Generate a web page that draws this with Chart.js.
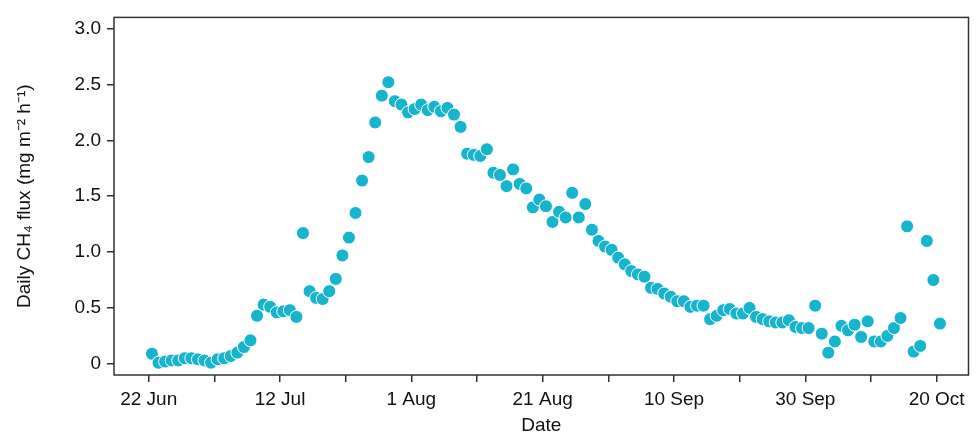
<!DOCTYPE html>
<html>
<head>
<meta charset="utf-8">
<script src="https://cdn.jsdelivr.net/npm/chart.js@4.4.1/dist/chart.umd.min.js"></script>
<style>
    html, body { margin: 0; padding: 0; background: #fff; }
    #wrap { width: 976px; height: 434px; }
</style>
</head>
<body>
<div id="wrap"><canvas id="chartFlux" width="976" height="434"></canvas></div>
<script>
// daily CH4 flux, one value per day starting 22 Jun
const fluxHarian = [
    0.09, 0.01, 0.02, 0.03, 0.03, 0.05, 0.05, 0.04, 0.03, 0.01,
    0.04, 0.05, 0.07, 0.10, 0.15, 0.21, 0.43, 0.53, 0.51, 0.46,
    0.47, 0.48, 0.42, 1.17, 0.65, 0.59, 0.58, 0.65, 0.76, 0.97,
    1.13, 1.35, 1.64, 1.85, 2.16, 2.40, 2.52, 2.35, 2.32, 2.25,
    2.28, 2.32, 2.27, 2.30, 2.26, 2.29, 2.23, 2.12, 1.88, 1.87,
    1.86, 1.92, 1.71, 1.69, 1.59, 1.74, 1.61, 1.57, 1.40, 1.47,
    1.41, 1.27, 1.36, 1.31, 1.53, 1.31, 1.43, 1.20, 1.10, 1.05,
    1.02, 0.95, 0.89, 0.83, 0.80, 0.78, 0.68, 0.67, 0.63, 0.60,
    0.56, 0.56, 0.51, 0.52, 0.52, 0.40, 0.43, 0.48, 0.49, 0.45,
    0.45, 0.50, 0.42, 0.40, 0.38, 0.37, 0.37, 0.39, 0.33, 0.32,
    0.32, 0.52, 0.27, 0.10, 0.20, 0.34, 0.30, 0.35, 0.24, 0.38,
    0.20, 0.20, 0.25, 0.32, 0.41, 1.23, 0.11, 0.16, 1.10, 0.75,
    0.36
];

// x tick labels, every 20 days from 22 Jun (minor ticks every 10 days)
const labelTanggal = ["22 Jun", "12 Jul", "1 Aug", "21 Aug", "10 Sep", "30 Sep", "20 Oct"];
const yTicks = [0, 0.5, 1.0, 1.5, 2.0, 2.5, 3.0];

// each daily value sits at noon of its day
const titikFlux = fluxHarian.map((v, i) => ({ x: i + 0.5, y: v }));

const fontUtama = { family: "'Liberation Sans', Arial, sans-serif", size: 19 };
const warnaAxis = "#333333";

const bingkai = {
    id: "bingkai",
    beforeDatasetsDraw(chart) {
        const { ctx, chartArea } = chart;
        ctx.save();
        ctx.strokeStyle = warnaAxis;
        ctx.lineWidth = 1.5;
        ctx.strokeRect(chartArea.left, chartArea.top, chartArea.right - chartArea.left, chartArea.bottom - chartArea.top);
        ctx.restore();
    }
};

new Chart(document.getElementById("chartFlux"), {
    type: "scatter",
    data: {
        datasets: [{
            data: titikFlux,
            backgroundColor: "#17b4cd",
            borderColor: "#ffffff",
            borderWidth: 1,
            pointRadius: 6.5,
            pointHoverRadius: 6.5
        }]
    },
    options: {
        responsive: false,
        animation: false,
        devicePixelRatio: 1,
        layout: { padding: { top: 12, right: 4, left: 0, bottom: 0 } },
        plugins: { legend: { display: false }, tooltip: { enabled: false } },
        scales: {
            x: {
                type: "linear",
                min: -5.28,
                max: 124.85,
                afterFit: s => { s.height = 59; },
                border: { display: false },
                grid: { drawOnChartArea: false, drawTicks: true, tickLength: 7, color: warnaAxis, lineWidth: 1.5 },
                ticks: {
                    stepSize: 10,
                    includeBounds: false,
                    autoSkip: false,
                    maxRotation: 0,
                    padding: 6,
                    color: "#111",
                    font: fontUtama,
                    callback: v => (v % 20 === 0 ? labelTanggal[v / 20] : "")
                },
                title: { display: true, text: "Date", color: "#111", font: fontUtama, padding: { top: 0, bottom: -3 } }
            },
            y: {
                min: -0.1,
                max: 3.1,
                afterFit: s => { s.width = 114; },
                afterBuildTicks: s => { s.ticks = yTicks.map(v => ({ value: v })); },
                border: { display: false },
                grid: { drawOnChartArea: false, drawTicks: true, tickLength: 7, color: warnaAxis, lineWidth: 1.5 },
                ticks: {
                    padding: 6,
                    color: "#111",
                    font: fontUtama,
                    callback: v => (v === 0 ? "0" : v.toFixed(1))
                },
                title: { display: true, text: "Daily CH\u2084 flux (mg m\u207B\u00B2 h\u207B\u00B9)", color: "#111", font: fontUtama, padding: { top: 13, bottom: 0 } }
            }
        }
    },
    plugins: [bingkai]
});
</script>
</body>
</html>
